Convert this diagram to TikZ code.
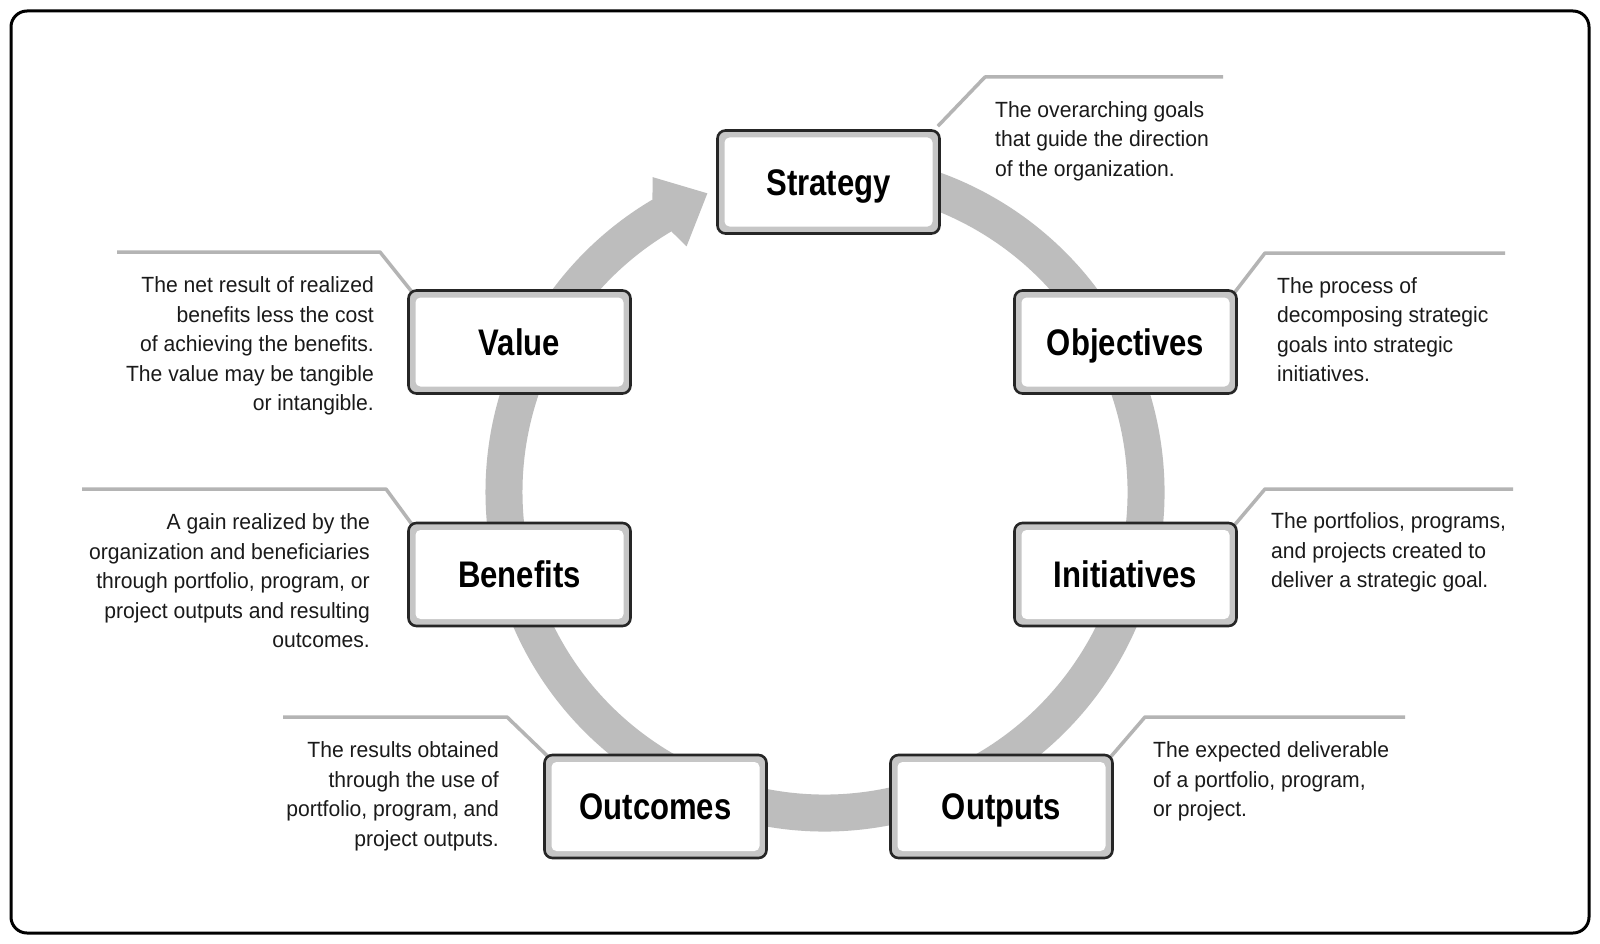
\documentclass[tikz,border=0pt]{standalone}
\usepackage{fontspec}
\setmainfont{Liberation Sans}[FakeStretch=0.96]
\newfontfamily\labfont{Liberation Sans}[FakeStretch=0.84]
\usetikzlibrary{backgrounds,calc}
\definecolor{ringgray}{HTML}{BDBDBD}
\definecolor{bandgray}{HTML}{C6C6C6}
\definecolor{linegray}{HTML}{B4B4B4}
\definecolor{txtgray}{HTML}{1A1A1A}
\tikzset{
  stagebox/.style={rounded corners=8pt, draw=black!85, line width=2.6pt, fill=bandgray,
    minimum width=222pt, minimum height=103pt, inner sep=0pt,
    text height=26.5pt, text depth=0pt,
    font=\labfont\bfseries\fontsize{37}{40}\selectfont,
    path picture={\fill[white, rounded corners=5pt]
      ([shift={(7pt,7pt)}]path picture bounding box.south west) rectangle
      ([shift={(-7pt,-7pt)}]path picture bounding box.north east);}},
  desc/.style={inner sep=0pt, text=txtgray, font=\fontsize{22}{29.5}\selectfont},
  descl/.style={desc, anchor=west, align=left},
  descr/.style={desc, anchor=east, align=right},
  callout/.style={draw=linegray, line width=3.5pt, line join=round},
  ring/.style={draw=ringgray, line width=37pt},
}
\begin{document}
\begin{tikzpicture}[x=1pt,y=-1pt]
\useasboundingbox (0,0) rectangle (1600,944);
\begin{pgfonlayer}{background}
\fill[white] (0,0) rectangle (1600,944);
\end{pgfonlayer}
\draw[line width=3pt, rounded corners=16pt] (11,11) rectangle (1589,933);
% ring with arrow
\coordinate (c) at (825,492);
\draw[ring] ($(c)+(-100:321)$) arc[start angle=-100, end angle=241, radius=321];
\fill[ringgray] ($(c)+(-118.7:359)$) -- ($(c)+(-111.5:321)$) -- ($(c)+(-119.4:282)$) -- ($(c)+(-120.5:302)$) -- ($(c)+(-120.5:340)$) -- cycle;
% boxes
\node[stagebox] (strat) at (828.5,182) {Strategy};
\node[stagebox] (value) at (519.5,342) {Value};
\node[stagebox] (obj) at (1125.5,342) {Objectives};
\node[stagebox] (ben) at (519.5,574.5) {Benefits};
\node[stagebox] (init) at (1125.5,574.5) {Initiatives};
\node[stagebox] (outc) at (655.5,806.5) {Outcomes};
\node[stagebox] (outp) at (1001.5,806.5) {Outputs};
% descriptions
\node[descl] (tstrat) at (995,141) {The overarching goals\\that guide the direction\\of the organization.};
\node[descr] (tvalue) at (374,346) {The net result of realized\\benefits less the cost\\of achieving the benefits.\\The value may be tangible\\or intangible.};
\node[descl] (tobj) at (1277,329.5) {The process of\\decomposing strategic\\goals into strategic\\initiatives.};
\node[descr] (tben) at (370,581) {A gain realized by the\\organization and beneficiaries\\through portfolio, program, or\\project outputs and resulting\\outcomes.};
\node[descl] (tinit) at (1271,552.5) {The portfolios, programs,\\and projects created to\\deliver a strategic goal.};
\node[descr] (toutc) at (499,796.5) {The results obtained\\through the use of\\portfolio, program, and\\project outputs.};
\node[descl] (toutp) at (1153,781.5) {The expected deliverable\\of a portfolio, program,\\or project.};
% callout lines
\begin{pgfonlayer}{background}
\draw[callout] ([shift={(-3pt,3pt)}]strat.north east) -- (985,77) coordinate (ks) -- (1223,77) coordinate (es);
\draw[callout] ([shift={(5pt,-3pt)}]value.north west) -- (380,252) coordinate (kv) -- (117,252) coordinate (ev);
\draw[callout] ([shift={(-3pt,-3pt)}]obj.north east) -- (1265,253) coordinate (ko) -- (1505,253) coordinate (eo);
\draw[callout] ([shift={(5pt,-3pt)}]ben.north west) -- (386,489) coordinate (kb) -- (82,489) coordinate (eb);
\draw[callout] ([shift={(-3pt,-3pt)}]init.north east) -- (1265,489) coordinate (ki) -- (1513,489) coordinate (ei);
\draw[callout] ([shift={(5pt,-3pt)}]outc.north west) -- (507,717) coordinate (kc) -- (283,717) coordinate (ec);
\draw[callout] ([shift={(-3pt,-3pt)}]outp.north east) -- (1145,717) coordinate (kp) -- (1405,717) coordinate (ep);
\end{pgfonlayer}
\end{tikzpicture}
\end{document}
